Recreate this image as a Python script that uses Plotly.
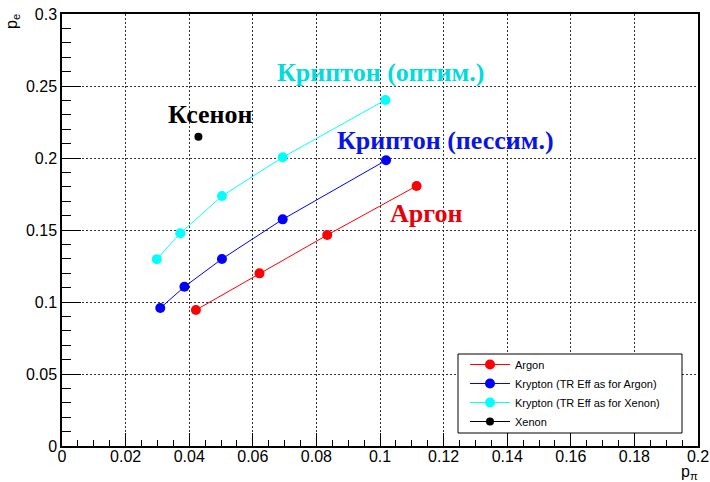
import plotly.graph_objects as go

# ---- data ----
argon_x = [0.0421, 0.0621, 0.0834, 0.1115]
argon_y = [0.0944, 0.1199, 0.1465, 0.1806]

kr_ar_x = [0.0309, 0.0385, 0.0503, 0.0694, 0.1019]
kr_ar_y = [0.0958, 0.1106, 0.1299, 0.1574, 0.1984]

kr_xe_x = [0.0298, 0.0372, 0.0503, 0.0694, 0.1017]
kr_xe_y = [0.1297, 0.1477, 0.1736, 0.2005, 0.2403]

xe_x = [0.0429]
xe_y = [0.2148]

series_names = ["Argon", "Krypton (TR Eff as for Argon)",
                "Krypton (TR Eff as for Xenon)", "Xenon"]

labels_text = ["Криптон (оптим.)", "Ксенон", "Криптон (пессим.)", "Аргон"]
labels_x = [0.1002, 0.0466, 0.1206, 0.1146]
labels_y = [0.2597, 0.2299, 0.2125, 0.1618]
labels_color = ["#00dcdc", "#000000", "#0a14e6", "#e6000a"]

SANS = "Liberation Sans"
SERIF = "Liberation Serif"

W, H = 710, 482
L, R, T, B = 62, 12, 14, 36
pw, ph = W - L - R, H - T - B


def px2paper(px, py):
    return (px - L) / pw, (H - B - py) / ph


fig = go.Figure()
series = [
    (argon_x, argon_y, "#ff0000", 10),
    (kr_ar_x, kr_ar_y, "#0000ff", 10),
    (kr_xe_x, kr_xe_y, "#00ffff", 10),
    (xe_x, xe_y, "#000000", 8),
]
for (xs, ys, col, ms), name in zip(series, series_names):
    fig.add_trace(go.Scatter(
        x=xs, y=ys, name=name, mode="lines+markers",
        line=dict(color=col, width=1),
        marker=dict(color=col, size=ms, symbol="circle"),
    ))

for t, x, y, c in zip(labels_text, labels_x, labels_y, labels_color):
    fig.add_annotation(x=x, y=y, xref="x", yref="y", text="<b>%s</b>" % t,
                       showarrow=False, xanchor="center", yanchor="middle",
                       font=dict(family=SERIF, size=26, color=c))

# axis titles
ax, ay = px2paper(689, 472)
fig.add_annotation(x=ax, y=ay, xref="paper", yref="paper", text="p<sub>π</sub>",
                   showarrow=False, xanchor="center", yanchor="middle",
                   font=dict(family=SANS, size=16, color="black"))
ax, ay = px2paper(13, 22)
fig.add_annotation(x=ax, y=ay, xref="paper", yref="paper", text="p<sub>e</sub>",
                   textangle=-90, showarrow=False, xanchor="center", yanchor="middle",
                   font=dict(family=SANS, size=16, color="black"))

# legend box
lx0, ly0 = px2paper(458, 433)
lx1, ly1 = px2paper(682, 354)
fig.add_shape(type="rect", xref="paper", yref="paper", x0=lx0, y0=ly0, x1=lx1, y1=ly1,
              line=dict(color="black", width=1), fillcolor="white", layer="above")

grid = dict(showgrid=True, gridcolor="#333333", gridwidth=1, griddash="2px,2px")
axis_common = dict(showline=True, linecolor="black", linewidth=1.5, mirror=True,
                   zeroline=False, ticks="inside", tickcolor="black", tickwidth=1,
                   automargin=False,
                   tickfont=dict(family=SANS, size=16, color="black"), **grid)

fig.update_xaxes(range=[0, 0.2], dtick=0.02, tick0=0, ticklen=13,
                 ticklabelstandoff=-5,
                 minor=dict(dtick=0.005, ticks="inside", ticklen=6, tickcolor="black",
                            showgrid=False),
                 **axis_common)
fig.update_yaxes(range=[0, 0.3], dtick=0.05, tick0=0, ticklen=19,
                 minor=dict(dtick=0.01, ticks="inside", ticklen=9, tickcolor="black",
                            showgrid=False),
                 **axis_common)

lgx, lgy = px2paper(465, 350)
fig.update_layout(
    width=W, height=H,
    margin=dict(l=L, r=R, t=T, b=B, pad=0, autoexpand=False),
    plot_bgcolor="white", paper_bgcolor="white",
    showlegend=True,
    legend=dict(x=lgx, y=lgy, xanchor="left", yanchor="top",
                bgcolor="rgba(0,0,0,0)", borderwidth=0, itemwidth=40,
                font=dict(family=SANS, size=11, color="black"),
                tracegroupgap=0),
)

fig.write_html("out.html")
